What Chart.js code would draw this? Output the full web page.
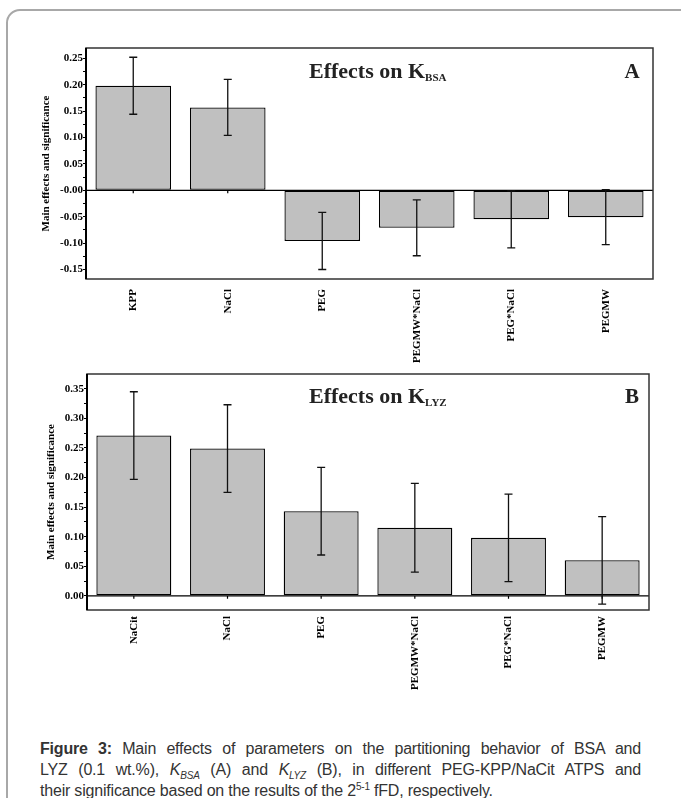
<!DOCTYPE html>
<html>
<head>
<meta charset="utf-8">
<script src="https://cdn.jsdelivr.net/npm/chart.js@4.4.0/dist/chart.umd.min.js"></script>
<style>
  body { margin: 0; background: #fff; width: 681px; height: 798px; overflow: hidden; position: relative; }
  .card { position: absolute; left: 6px; top: 9px; width: 720px; height: 840px; border: 2px solid #a8a8a8; border-radius: 14px; }
  #wrapA { position: absolute; left: 0; top: 0; width: 681px; height: 370px; }
  #wrapB { position: absolute; left: 0; top: 360px; width: 681px; height: 340px; }
  .cap { position: absolute; left: 40px; top: 738px; width: 601px; font-family: "Liberation Sans", Arial, sans-serif; font-size: 16px; letter-spacing: -0.2px; line-height: 21px; color: #333; }
  .cap div { text-align: justify; text-align-last: justify; white-space: nowrap; }
  .cap div.last { text-align-last: left; }
  .cap sub, .cap sup { font-size: 10px; line-height: 0; }
</style>
</head>
<body>
<div class="card"></div>
<div id="wrapA"><canvas id="chartA"></canvas></div>
<div id="wrapB"><canvas id="chartB"></canvas></div>
<div class="cap">
  <div><b>Figure 3:</b> Main effects of parameters on the partitioning behavior of BSA and</div>
  <div>LYZ (0.1 wt.%), <i>K</i><sub><i>BSA</i></sub> (A) and <i>K</i><sub><i>LYZ</i></sub> (B), in different PEG-KPP/NaCit ATPS and</div>
  <div class="last">their significance based on the results of the 2<sup>5-1</sup> fFD, respectively.</div>
</div>

<script>
/*------------------------------------------ data ----------------------------------------------*/
const catsA = ['KPP', 'NaCl', 'PEG', 'PEGMW*NaCl', 'PEG*NaCl', 'PEGMW'];
const valsA = [0.198, 0.157, -0.096, -0.071, -0.055, -0.051];
const errsA = [0.054, 0.053, 0.054, 0.053, 0.054, 0.052];
const yValsA = [-0.15, -0.10, -0.05, 0, 0.05, 0.10, 0.15, 0.20, 0.25];
const yLabelsA = ['-0.15', '-0.10', '-0.05', '-0.00', '0.05', '0.10', '0.15', '0.20', '0.25'];

const catsB = ['NaCit', 'NaCl', 'PEG', 'PEGMW*NaCl', 'PEG*NaCl', 'PEGMW'];
const valsB = [0.271, 0.249, 0.143, 0.115, 0.098, 0.060];
const errsB = [0.074, 0.074, 0.074, 0.075, 0.074, 0.074];
const yValsB = [0, 0.05, 0.10, 0.15, 0.20, 0.25, 0.30, 0.35];
const yLabelsB = ['0.00', '0.05', '0.10', '0.15', '0.20', '0.25', '0.30', '0.35'];

const serif = '"Liberation Serif", "Times New Roman", serif';

/*------------------------------------------ panel ----------------------------------------------*/
function makePanel(id, cats, vals, errs, yVals, yLabels, opt) {
    // minor ticks half way between the labelled ones
    let tickVals = [];
    yVals.forEach((v, i) => {
        tickVals.push(v);
        if (i < yVals.length - 1) tickVals.push((v + yVals[i + 1]) / 2);
    });

    let deco = {
        id: 'deco',
        beforeDatasetsDraw(chart) {
            let c = chart.ctx, a = chart.chartArea, y0 = chart.scales.y.getPixelForValue(0);
            c.save();
            c.strokeStyle = '#000';
            c.lineWidth = 1.2;
            c.beginPath();
            c.moveTo(a.left, y0); c.lineTo(a.right, y0);
            // small category ticks under the zero line
            cats.forEach((n, i) => {
                let x = chart.scales.x.getPixelForValue(i);
                c.moveTo(x, y0); c.lineTo(x, y0 + 3);
            });
            c.stroke();
            c.restore();
        },
        afterDatasetsDraw(chart) {
            let c = chart.ctx, a = chart.chartArea;
            let xs = chart.scales.x, ys = chart.scales.y;
            c.save();
            // error bars
            c.strokeStyle = '#111';
            c.lineWidth = 1.3;
            vals.forEach((v, i) => {
                let x = xs.getPixelForValue(i);
                let t = ys.getPixelForValue(v + errs[i]);
                let b = ys.getPixelForValue(v - errs[i]);
                c.beginPath();
                c.moveTo(x, t); c.lineTo(x, b);
                c.moveTo(x - 4, t); c.lineTo(x + 4, t);
                c.moveTo(x - 4, b); c.lineTo(x + 4, b);
                c.stroke();
            });
            // frame
            c.strokeStyle = '#333';
            c.lineWidth = 1.5;
            c.strokeRect(a.left, a.top, a.right - a.left, a.bottom - a.top);
            c.strokeStyle = '#000';
            c.lineWidth = 2;
            c.beginPath();
            c.moveTo(a.left, a.top); c.lineTo(a.left, a.bottom);
            c.stroke();
            // title with subscript, panel letter
            c.fillStyle = '#222';
            c.textBaseline = 'alphabetic';
            c.font = 'bold 22px ' + serif;
            let base = a.top + opt.titleDy;
            c.fillText('Effects on K', 309, base);
            let w = c.measureText('Effects on K').width;
            c.font = 'bold 11px ' + serif;
            c.fillText(opt.sub, 309 + w, base + 3);
            c.font = 'bold 21px ' + serif;
            c.textAlign = 'center';
            c.fillText(opt.letter, 632, base);
            c.restore();
        }
    };

    return new Chart(document.getElementById(id), {
        type: 'bar',
        data: {
            labels: cats,
            datasets: [{
                data: vals,
                backgroundColor: '#c0c0c0',
                borderColor: '#000',
                borderWidth: 1.3,
                borderSkipped: false,
                barPercentage: 0.8,
                categoryPercentage: 1.0
            }]
        },
        options: {
            responsive: true,
            maintainAspectRatio: false,
            animation: false,
            layout: { padding: { top: opt.padTop, right: opt.padRight, left: 0, bottom: 0 } },
            plugins: { legend: { display: false }, tooltip: { enabled: false } },
            scales: {
                x: {
                    grid: { display: false, drawTicks: false },
                    border: { display: false },
                    ticks: {
                        maxRotation: 90, minRotation: 90, autoSkip: false, padding: opt.xPad,
                        color: '#000', font: { family: serif, size: 11, weight: 'bold' }
                    },
                    afterFit(scale) { scale.height = opt.xHeight; }
                },
                y: {
                    min: opt.min, max: opt.max,
                    afterBuildTicks(scale) { scale.ticks = tickVals.map(v => ({ value: v })); },
                    grid: { display: true, drawOnChartArea: false, drawTicks: true, tickLength: 3, color: '#000', lineWidth: 1 },
                    border: { display: false },
                    ticks: {
                        autoSkip: false, padding: 0, color: '#000',
                        font: { family: serif, size: 11, weight: 'bold' },
                        callback(val) {
                            let k = yVals.findIndex(v => Math.abs(v - val) < 1e-9);
                            return k < 0 ? '' : yLabels[k];
                        }
                    },
                    title: {
                        display: true, text: 'Main effects and significance', color: '#000',
                        font: { family: serif, size: 11, weight: 'bold' },
                        padding: { top: opt.titlePad, bottom: 0 }
                    },
                    afterFit(scale) { scale.width = opt.yWidth; }
                }
            }
        },
        plugins: [deco]
    });
}

makePanel('chartA', catsA, valsA, errsA, yValsA, yLabelsA, {
    min: -0.168, max: 0.2695, padTop: 48, padRight: 28, yWidth: 86, xHeight: 91, xPad: 10,
    titlePad: 40, titleDy: 30, sub: 'BSA', letter: 'A'
});

makePanel('chartB', catsB, valsB, errsB, yValsB, yLabelsB, {
    min: -0.024, max: 0.375, padTop: 14, padRight: 32, yWidth: 87, xHeight: 90, xPad: 6,
    titlePad: 45, titleDy: 29, sub: 'LYZ', letter: 'B'
});
</script>
</body>
</html>
